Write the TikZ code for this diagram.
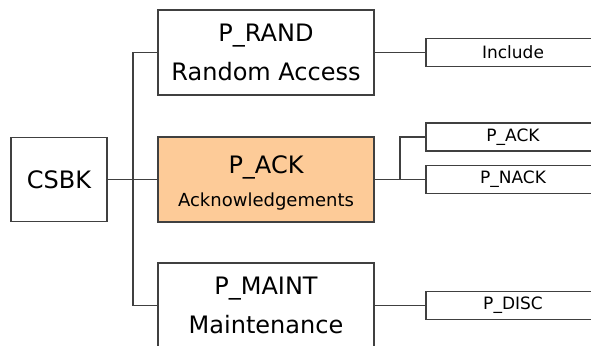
\documentclass[tikz,border=0pt]{standalone}
\usepackage{fontspec}
\setmainfont{DejaVu Sans}
\definecolor{linec}{HTML}{404040}
\definecolor{peach}{HTML}{FDCB98}
\begin{document}
\begin{tikzpicture}[x=1pt,y=-1pt,
  box/.style={draw=linec, line width=1.3pt, outer sep=0pt, minimum width=216pt, minimum height=85pt, inner sep=0pt, align=center, anchor=north west, fill=white},
  leaf/.style={draw=linec, line width=1.3pt, outer sep=0pt, minimum width=174pt, minimum height=28pt, inner sep=0pt, anchor=north west, font=\fontsize{17}{19}\selectfont, text width=150pt, align=center},
  conn/.style={draw=linec, line width=1.3pt},
  big/.style={font=\fontsize{24}{39}\selectfont},
  txt/.style={inner sep=0pt, anchor=base}]
\useasboundingbox (0,0) rectangle (591,345);
\clip (0,0) rectangle (591,345);
\node[box, minimum width=96pt, minimum height=84pt, big] (csbk) at (11,137.5) {CSBK};
\node[box, big] (prand) at (158,10) {P\_RAND\\Random Access};
\node[box, fill=peach] (pack) at (158,137) {};
\node[txt, font=\fontsize{24}{24}\selectfont] (packt) at (266,173) {P\_ACK};
\node[txt, font=\fontsize{18}{18}\selectfont] (packs) at (266,206.5) {Acknowledgements};
\node[box, big] (pmaint) at (158,263) {P\_MAINT\\Maintenance};
\node[leaf] (incl) at (426,38.5) {Include};
\node[leaf] (sack) at (426,123) {P\_ACK};
\node[leaf] (snack) at (426,165.5) {P\_NACK};
\node[leaf] (disc) at (426,291.5) {P\_DISC};
\coordinate (t1) at (133,52.5);
\coordinate (t3) at (133,305.5);
\coordinate (fork) at (400,179.5);
\draw[conn] (prand.west) -- (t1) -- (t3) -- (pmaint.west);
\draw[conn] (csbk.east) -- (pack.west);
\draw[conn] (prand.east) -- (incl.west);
\draw[conn] (pack.east) -- (fork) |- (sack.west);
\draw[conn] (fork) -- (snack.west);
\draw[conn] (pmaint.east) -- (disc.west);
\end{tikzpicture}
\end{document}
